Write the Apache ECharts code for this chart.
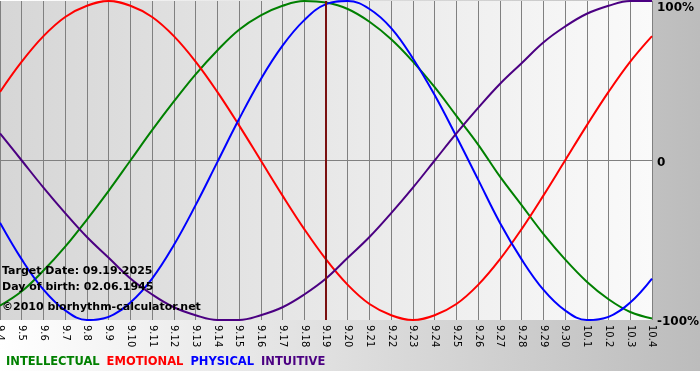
<!DOCTYPE html>
<html>
<head>
<meta charset="utf-8">
<script src="https://cdn.jsdelivr.net/npm/echarts@6/dist/echarts.min.js"></script>
<style>html,body{margin:0;padding:0;background:#fff}#c{width:700px;height:380px}</style>
</head>
<body>
<div id="c"></div>
<script>
var dates = ['9.4','9.5','9.6','9.7','9.8','9.9','9.10','9.11','9.12','9.13','9.14','9.15','9.16','9.17','9.18','9.19','9.20','9.21','9.22','9.23','9.24','9.25','9.26','9.27','9.28','9.29','9.30','10.1','10.2','10.3','10.4'];
var intellectual = [-91,-82,-69,-54,-37,-19,0,19,37,54,69,82,91,97,100,99,95,87,76,62,46,28,10,-10,-28,-46,-62,-76,-87,-95,-99];
var emotional = [43,62,78,90,97,100,97,90,78,62,43,22,0,-22,-43,-62,-78,-90,-97,-100,-97,-90,-78,-62,-43,-22,0,22,43,62,78];
var physical = [-39,-62,-81,-94,-100,-98,-89,-74,-53,-28,-1,26,51,72,88,98,100,95,83,64,41,15,-12,-39,-62,-81,-94,-100,-98,-89,-74];
var intuitive = [17,0,-17,-33,-48,-61,-74,-84,-92,-97,-100,-100,-97,-92,-84,-74,-61,-48,-33,-17,0,17,33,48,61,74,84,92,97,100,100];
var yTickLabels = {'100':'100%','0':'0','-100':'-100%'};
var targetDate = '9.19';
var notes = ['Target Date: 09.19.2025','Day of birth: 02.06.1945','\u00A92010 biorhythm-calculator.net'];

var names = ['INTELLECTUAL','EMOTIONAL','PHYSICAL','INTUITIVE'];
var colors = ['#008000','#ff0000','#0000ff','#4b0082'];
var values = [intellectual, emotional, physical, intuitive];

var chart = echarts.init(document.getElementById('c'));
var series = names.map(function(n,i){
  return {
    name: n, type: 'line', data: values[i], smooth: 0.4, showSymbol: false, symbol: 'none',
    lineStyle: {color: colors[i], width: 2}, itemStyle: {color: colors[i]}, z: 3,
    animation: false
  };
});
series[0].markLine = {
  symbol: 'none', silent: true, label: {show: false}, animation: false,
  lineStyle: {color: '#7a1010', width: 2, type: 'solid'},
  data: [{xAxis: targetDate}]
};

chart.setOption({
  animation: false,
  backgroundColor: {type:'linear', x:0, y:0, x2:1, y2:0, colorStops:[{offset:0,color:'#ffffff'},{offset:1,color:'#bcbcbc'}]},
  grid: {left: 0, right: 48, top: 1, bottom: 60, show: true, borderWidth: 0, containLabel: false, outerBoundsMode: 'none',
    backgroundColor: {type:'linear', x:0, y:0, x2:1, y2:0, colorStops:[{offset:0,color:'#d6d6d6'},{offset:1,color:'#fafafa'}]}},
  legend: {
    left: -4, top: 351, icon: 'none', itemWidth: 0, itemHeight: 0, itemGap: 2,
    textStyle: {fontFamily: 'DejaVu Sans', fontWeight: 'bold', fontSize: 11.5},
    data: names.map(function(n,i){ return {name: n, textStyle: {color: colors[i]}}; }),
    selectedMode: false
  },
  xAxis: {
    type: 'category', data: dates, boundaryGap: false,
    axisLine: {show: true, lineStyle: {color: '#808080', width: 1}},
    axisTick: {show: true, length: 4, interval: 0, lineStyle: {color: '#808080'}},
    axisLabel: {interval: 0, rotate: -90, margin: 5, color: '#000', fontFamily: 'DejaVu Sans', fontSize: 10,
      showMinLabel: true, showMaxLabel: true},
    splitLine: {show: true, interval: 0, lineStyle: {color: '#808080', width: 1}}
  },
  yAxis: {
    type: 'value', position: 'right', min: -100, max: 100, interval: 100,
    axisLine: {show: false}, axisTick: {show: false},
    splitLine: {show: true, lineStyle: {color: ['rgba(0,0,0,0)','#808080','rgba(0,0,0,0)'], width: 1}},
    axisLabel: {
      margin: 5, color: '#000', fontFamily: 'DejaVu Sans', fontWeight: 'bold', fontSize: 12,
      showMinLabel: true, showMaxLabel: true,
      formatter: function(v){
        var t = yTickLabels[String(v)] || '';
        if (v === 100) return '{t|' + t + '}';
        return '{m|' + t + '}';
      },
      rich: {
        t: {padding: [14,0,0,0], fontFamily: 'DejaVu Sans', fontWeight: 'bold', fontSize: 12, color: '#000'},
        m: {padding: [4,0,0,0], fontFamily: 'DejaVu Sans', fontWeight: 'bold', fontSize: 12, color: '#000'}
      }
    }
  },
  graphic: [
    {type:'rect', left: 0, top: 371, shape:{width:700, height:9}, style:{fill:'#ffffff'}, silent:true, z: 0},
    {type:'text', x: 2, y: 271, z: 100, style:{text: notes[0], fill:'#000', font:'bold 11px "DejaVu Sans"', verticalAlign:'middle'}},
    {type:'text', x: 2, y: 287, z: 100, style:{text: notes[1], fill:'#000', font:'bold 11px "DejaVu Sans"', verticalAlign:'middle'}},
    {type:'text', x: 2, y: 307, z: 100, style:{text: notes[2], fill:'#000', font:'bold 11px "DejaVu Sans"', verticalAlign:'middle'}}
  ],
  series: series
});
</script>
</body>
</html>
